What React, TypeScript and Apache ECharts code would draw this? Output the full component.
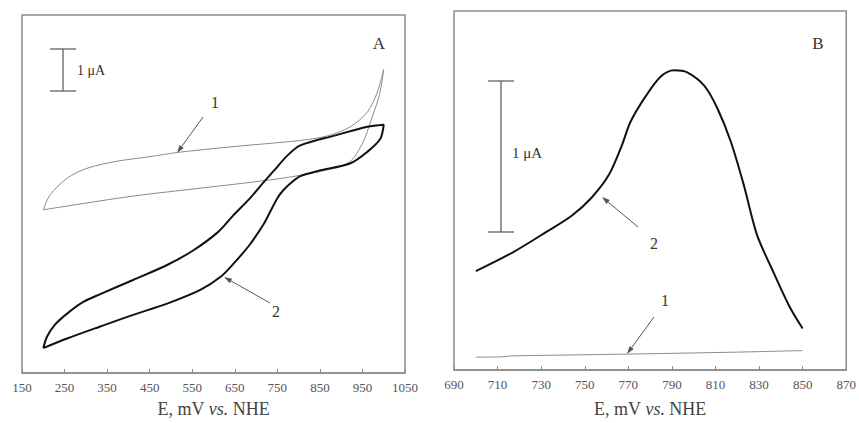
import React, { useEffect, useRef } from "react";
import * as echarts from "echarts";

// Panel A: cyclic voltammograms (E, mV vs. current, µA, offset)
const cvA1: [number, number][] = [
  [200, 3.93], [216, 4.29], [256, 4.69], [303, 4.93], [374, 5.1], [451, 5.21], [515, 5.31],
  [646, 5.45], [804, 5.6], [868, 5.71], [922, 5.93], [962, 6.29], [985, 6.76], [1000, 7.31],
  [990, 6.7], [969, 6.05], [952, 5.57], [922, 5.1], [882, 4.93], [804, 4.76], [726, 4.64],
  [569, 4.45], [411, 4.26], [256, 4.02], [200, 3.93],
];
const cvA2: [number, number][] = [
  [200, 0.6], [209, 0.88], [228, 1.17], [256, 1.43], [294, 1.71], [334, 1.9], [411, 2.24],
  [491, 2.6], [552, 2.95], [609, 3.38], [646, 3.79], [686, 4.21], [710, 4.5], [741, 4.86],
  [774, 5.24], [804, 5.48], [882, 5.71], [962, 5.93], [1000, 5.98],
  [992, 5.64], [962, 5.33], [922, 5.05], [844, 4.86], [804, 4.74], [781, 4.57], [764, 4.4],
  [750, 4.21], [726, 3.74], [717, 3.57], [686, 3.1], [646, 2.62], [616, 2.31], [569, 2.0],
  [491, 1.67], [411, 1.4], [334, 1.12], [256, 0.83], [200, 0.6],
];
// Panel B: differential pulse voltammograms
const dpB1: [number, number][] = [
  [700, 0.086], [712, 0.088], [716, 0.094], [750, 0.102], [780, 0.109], [810, 0.117],
  [830, 0.123], [850, 0.13],
];
const dpB2: [number, number][] = [
  [700, 0.662], [717, 0.788], [732, 0.921], [744, 1.033], [753, 1.152], [761, 1.305],
  [767, 1.503], [771, 1.662], [778, 1.834], [785, 1.967], [791, 2.007], [797, 1.993],
  [805, 1.901], [811, 1.748], [817, 1.53], [823, 1.238], [829, 0.907], [837, 0.642],
  [844, 0.424], [850, 0.278],
];
const xRangeA = { min: 150, max: 1050, interval: 100 };
const xRangeB = { min: 690, max: 870, interval: 20 };
const yRangeA = { min: 0, max: 8.62 };
const yRangeB = { min: 0, max: 2.404 };

const FONT = "'Liberation Serif', 'Times New Roman', serif";
const ANN = "#555";

function arrow(x1: number, y1: number, x2: number, y2: number) {
  const dx = x2 - x1, dy = y2 - y1;
  const len = Math.hypot(dx, dy);
  const ux = dx / len, uy = dy / len;
  const hl = 8, hw = 2.6;
  const bx = x2 - ux * hl, by = y2 - uy * hl;
  return [
    { type: "line", shape: { x1, y1, x2: bx, y2: by }, style: { stroke: ANN, lineWidth: 1 } },
    {
      type: "polygon",
      shape: { points: [[x2, y2], [bx - uy * hw, by + ux * hw], [bx + uy * hw, by - ux * hw]] },
      style: { fill: ANN },
    },
  ];
}
function txt(x: number, y: number, s: string, size: number, align = "center") {
  return {
    type: "text", x, y,
    style: { text: s, font: `${size}px ${FONT}`, fill: "#333", align, verticalAlign: "middle" },
  };
}
function seg(x1: number, y1: number, x2: number, y2: number) {
  return { type: "line", shape: { x1, y1, x2, y2 }, style: { stroke: ANN, lineWidth: 1.2 } };
}

const xName = "{a|E, mV }{b|vs.}{a| NHE}";
const nameStyle = {
  rich: {
    a: { fontFamily: FONT, fontSize: 18, color: "#444" },
    b: { fontFamily: FONT, fontSize: 18, color: "#444", fontStyle: "italic" },
  },
};

function xAxis(range: any, gridIndex: number, nameGap: number) {
  return {
    type: "value", gridIndex, ...range,
    name: xName, nameLocation: "middle", nameGap, nameTextStyle: nameStyle,
    axisLine: { show: true, lineStyle: { color: "#8c8c8c", width: 1.5 } },
    axisTick: { show: true, inside: true, length: 4, lineStyle: { color: "#8c8c8c" } },
    axisLabel: {
      fontFamily: FONT, fontSize: 13, color: "#555", margin: 8,
      formatter: (v: number) => String(v),
    },
    splitLine: { show: false },
  };
}
function yAxis(range: any, gridIndex: number) {
  return { type: "value", gridIndex, ...range, show: false, splitLine: { show: false } };
}

export default function App() {
  const ref = useRef<HTMLDivElement>(null);
  useEffect(() => {
    const chart = echarts.init(ref.current!, undefined, { renderer: "svg" });
    const thin = { color: "#8a8a8a", width: 1 };
    const thick = { color: "#111", width: 2 };
    chart.setOption({
      animation: false,
      backgroundColor: "#fff",
      grid: [
        { left: 22, top: 15, width: 383, height: 362, show: true, borderColor: "#8c8c8c", borderWidth: 1.5 },
        { left: 454, top: 11, width: 395, height: 363, show: true, borderColor: "#8c8c8c", borderWidth: 1.5 },
      ],
      xAxis: [xAxis(xRangeA, 0, 27), xAxis(xRangeB, 1, 30)],
      yAxis: [yAxis(yRangeA, 0), yAxis(yRangeB, 1)],
      series: [
        { type: "line", xAxisIndex: 0, yAxisIndex: 0, data: cvA1, showSymbol: false, smooth: 0.3, lineStyle: thin },
        { type: "line", xAxisIndex: 0, yAxisIndex: 0, data: cvA2, showSymbol: false, smooth: 0.3, lineStyle: thick },
        { type: "line", xAxisIndex: 1, yAxisIndex: 1, data: dpB1, showSymbol: false, smooth: 0.3, lineStyle: thin },
        { type: "line", xAxisIndex: 1, yAxisIndex: 1, data: dpB2, showSymbol: false, smooth: 0.3, lineStyle: thick },
      ],
      graphic: [
        // Panel A annotations
        seg(63, 49, 63, 91), seg(50, 49, 76, 49), seg(50, 91, 76, 91),
        txt(77, 70, "1 μA", 14, "left"),
        txt(379, 43, "A", 17),
        txt(215, 102, "1", 16),
        ...arrow(203, 117, 177, 153),
        txt(276, 311, "2", 16),
        ...arrow(270, 303, 224, 277),
        // Panel B annotations
        seg(501, 81, 501, 232), seg(488, 81, 514, 81), seg(488, 232, 514, 232),
        txt(512, 153, "1 μA", 15, "left"),
        txt(818, 43, "B", 17),
        txt(654, 243, "2", 16),
        ...arrow(638, 227, 602, 197),
        txt(665, 300, "1", 16),
        ...arrow(654, 317, 627, 354),
      ],
    });
    return () => chart.dispose();
  }, []);
  return (
    <div
      ref={ref}
      style={{ position: "absolute", left: 0, top: 0, width: 859, height: 423, background: "#fff" }}
    />
  );
}
